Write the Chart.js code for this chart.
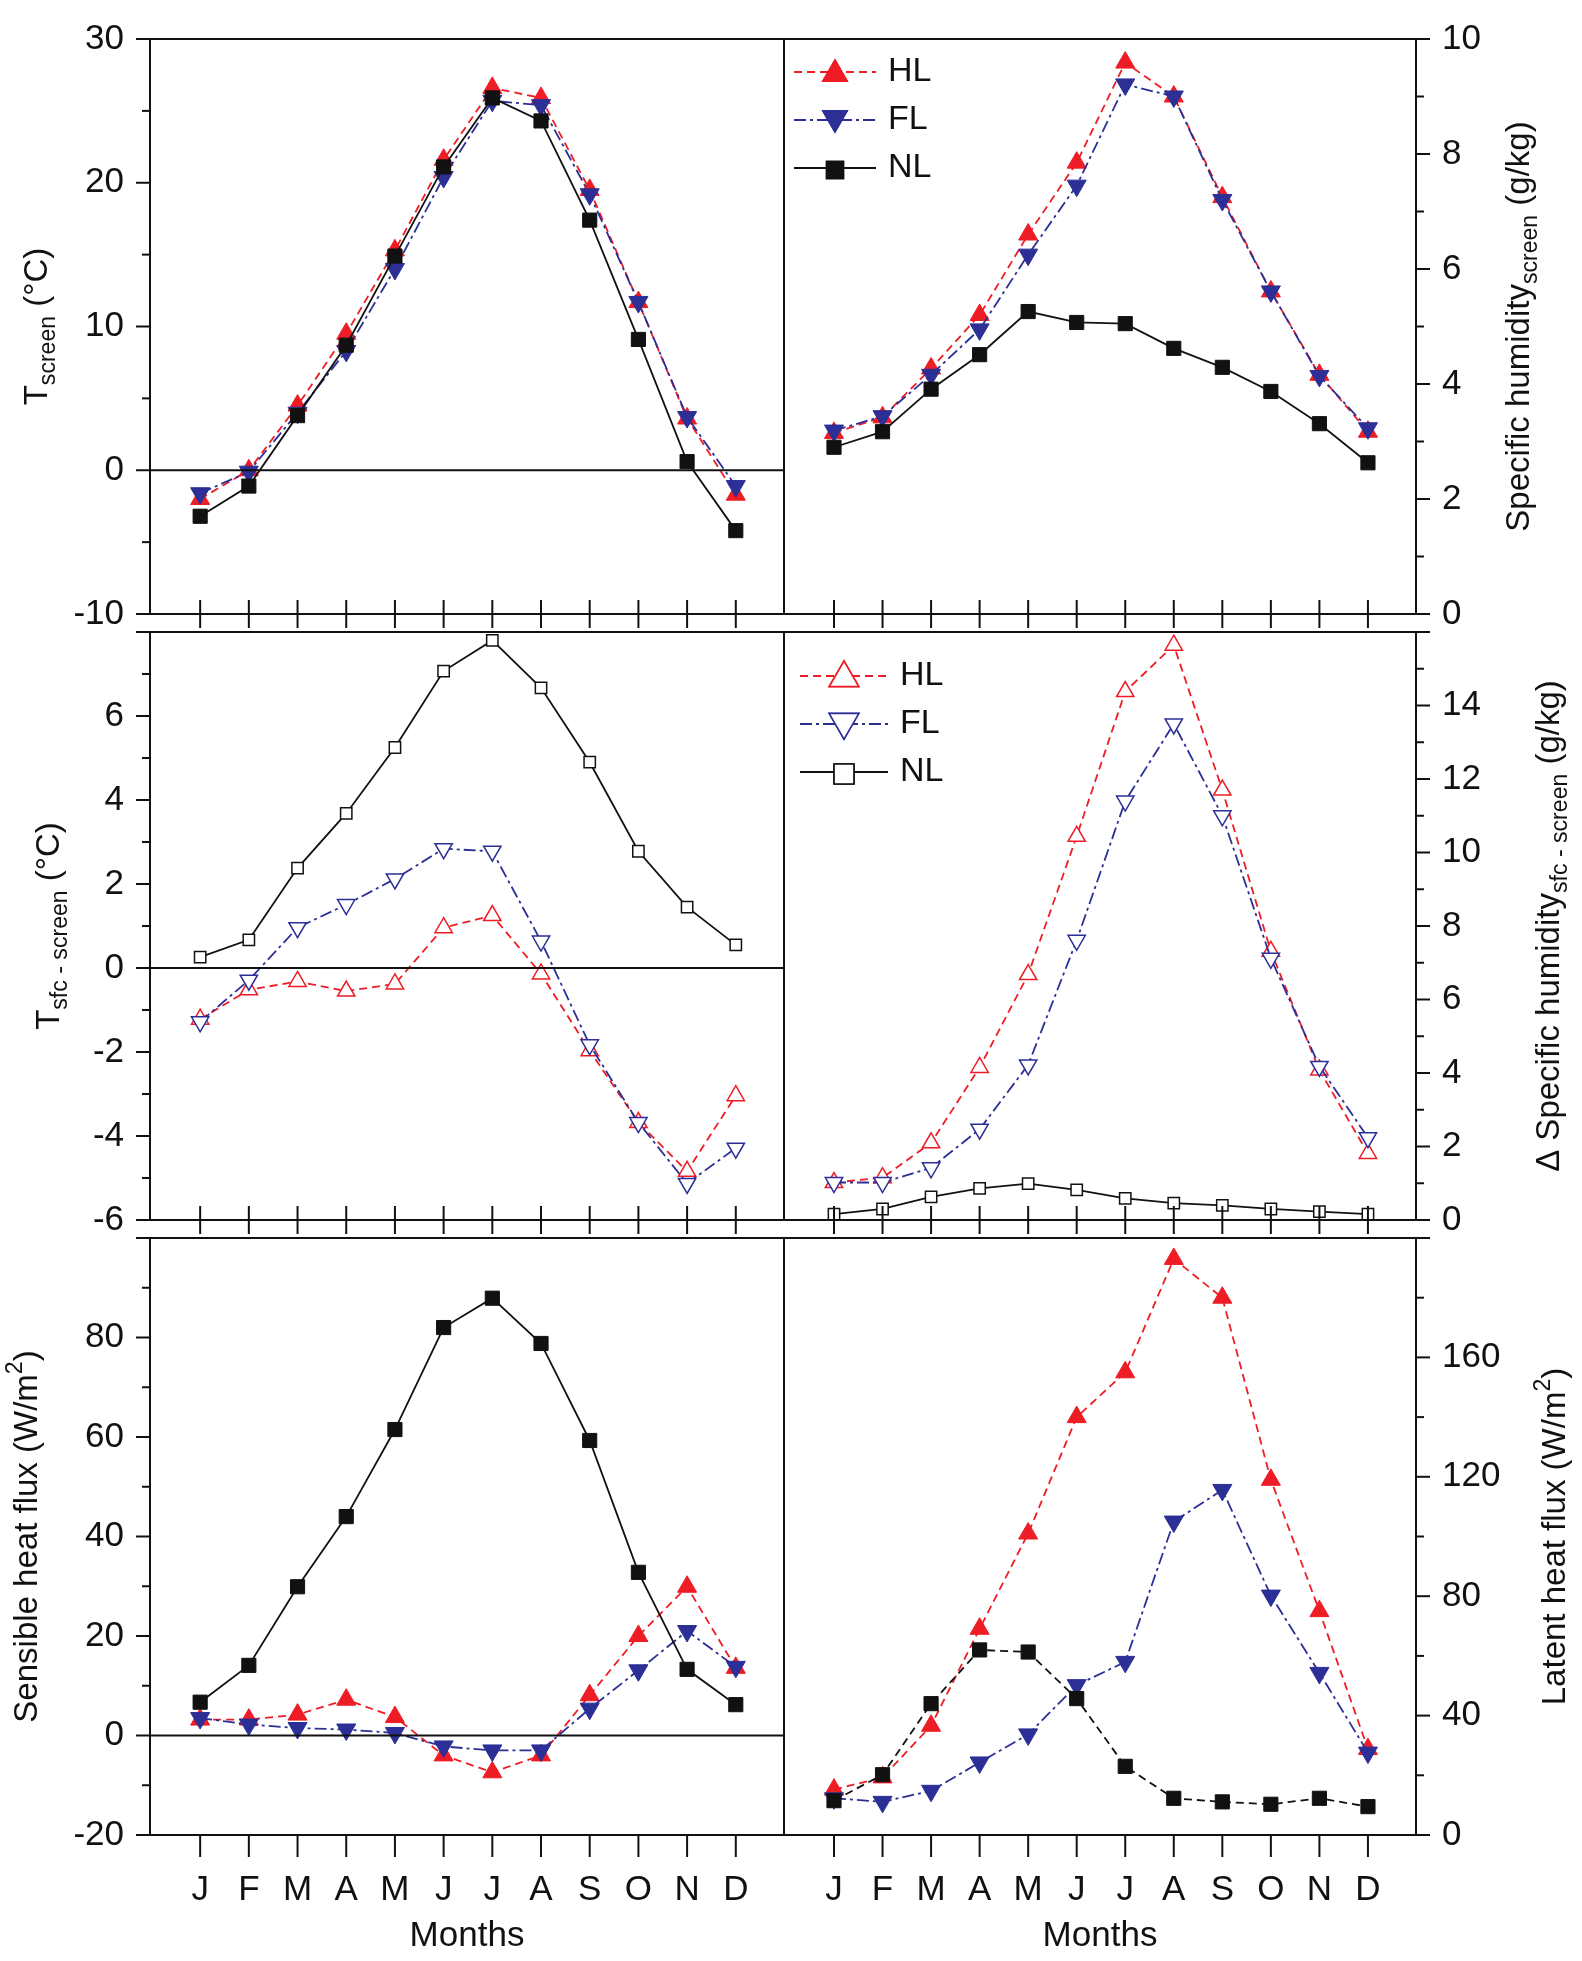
<!DOCTYPE html>
<html>
<head>
<meta charset="utf-8">
<script src="https://cdn.jsdelivr.net/npm/chart.js@4.4.0/dist/chart.umd.min.js"></script>
<style>
  body { margin: 0; background: #fff; width: 1582px; height: 1961px; position: relative; overflow: hidden; }
  canvas { position: absolute; }
</style>
</head>
<body>
<canvas id="tl" style="left:0;top:0"></canvas>
<canvas id="tr" style="left:784px;top:0"></canvas>
<canvas id="ml" style="left:0;top:593px"></canvas>
<canvas id="mr" style="left:784px;top:593px"></canvas>
<canvas id="bl" style="left:0;top:1199px"></canvas>
<canvas id="br" style="left:784px;top:1199px"></canvas>
<script>
const months = ['J', 'F', 'M', 'A', 'M', 'J', 'J', 'A', 'S', 'O', 'N', 'D'];

// screen temperature (°C)
const tScreenHL = [-2.0, 0.0, 4.5, 9.5, 15.3, 21.6, 26.6, 25.9, 19.5, 11.7, 3.6, -1.7];
const tScreenFL = [-1.6, -0.1, 4.0, 8.3, 14.0, 20.4, 25.7, 25.4, 19.2, 11.7, 3.7, -1.1];
const tScreenNL = [-3.2, -1.1, 3.8, 8.7, 14.9, 21.1, 25.9, 24.3, 17.4, 9.1, 0.6, -4.2];

// screen specific humidity (g/kg)
const qScreenHL = [3.15, 3.42, 4.27, 5.2, 6.6, 7.85, 9.59, 9.0, 7.25, 5.61, 4.16, 3.17];
const qScreenFL = [3.19, 3.44, 4.16, 4.95, 6.25, 7.45, 9.21, 9.0, 7.2, 5.61, 4.14, 3.23];
const qScreenNL = [2.9, 3.17, 3.91, 4.51, 5.26, 5.07, 5.05, 4.62, 4.29, 3.87, 3.31, 2.63];

// surface - screen temperature (°C)
const dTHL = [-1.22, -0.52, -0.32, -0.55, -0.38, 0.96, 1.25, -0.14, -1.97, -3.68, -4.84, -3.04];
const dTFL = [-1.28, -0.29, 0.96, 1.51, 2.12, 2.84, 2.78, 0.64, -1.83, -3.68, -5.13, -4.29];
const dTNL = [0.26, 0.67, 2.38, 3.68, 5.25, 7.07, 7.8, 6.67, 4.9, 2.78, 1.45, 0.55];

// surface - screen specific humidity (g/kg)
const dQHL = [1.02, 1.15, 2.1, 4.15, 6.68, 10.44, 14.38, 15.64, 11.7, 7.31, 4.08, 1.81];
const dQFL = [1.02, 1.02, 1.42, 2.47, 4.22, 7.61, 11.4, 13.5, 11.0, 7.12, 4.18, 2.24];
const dQNL = [0.16, 0.3, 0.63, 0.86, 0.99, 0.82, 0.59, 0.46, 0.4, 0.3, 0.23, 0.16];

// sensible heat flux (W/m2)
const shHL = [3.2, 3.2, 4.2, 7.2, 3.7, -4.0, -7.4, -4.0, 8.1, 20.0, 29.9, 13.6];
const shFL = [3.5, 2.2, 1.5, 1.2, 0.5, -2.2, -3.0, -3.0, 5.4, 13.1, 21.0, 13.8];
const shNL = [6.7, 14.1, 29.9, 44.0, 61.5, 82.0, 87.9, 78.8, 59.3, 32.8, 13.3, 6.2];

// latent heat flux (W/m2)
const lhHL = [15.2, 19.3, 36.6, 69.1, 101, 140, 155, 193, 180, 119, 75, 28.8];
const lhFL = [12.3, 11.1, 14.8, 24.3, 33.7, 50.2, 58, 105, 115.6, 80.2, 54.3, 27.6];
const lhNL = [11.5, 20.2, 44, 62, 61.3, 45.7, 23, 12.3, 11.1, 10.3, 12.3, 9.5];

const FONT = "'Liberation Sans', Arial, sans-serif";
const RED = '#ee1c25', BLUE = '#2b2f96', BLACK = '#111';
const DASH_HL = [8, 5], DASH_FL = [12, 4, 3, 4];

function pts(arr) { return arr.map((v, i) => ({ x: i, y: v })); }

function series(label, arr, kind, open, nlDash) {
  const color = kind === 'HL' ? RED : kind === 'FL' ? BLUE : BLACK;
  const isSq = kind === 'NL';
  return {
    label, data: pts(arr),
    borderColor: color, borderWidth: 1.8,
    borderDash: kind === 'HL' ? DASH_HL : kind === 'FL' ? DASH_FL : (nlDash ? DASH_HL : []),
    pointStyle: isSq ? 'rect' : 'triangle',
    rotation: kind === 'FL' ? 180 : 0,
    pointRadius: isSq ? (open ? 8 : 10) : (open ? 10 : 11),
    pointBackgroundColor: open ? '#fff' : color,
    pointBorderColor: color, pointBorderWidth: open ? 1.5 : 1,
    tension: 0, order: kind === 'NL' ? 1 : kind === 'FL' ? 2 : 3
  };
}

// rotated text with sub/superscripts
function drawRich(ctx, x, y, parts, size) {
  ctx.save();
  ctx.translate(x, y);
  ctx.rotate(-Math.PI / 2);
  ctx.fillStyle = '#111';
  ctx.textBaseline = 'middle';
  let total = 0;
  parts.forEach(p => {
    ctx.font = (p.sub || p.sup ? size * 0.7 : size) + 'px ' + FONT;
    p.w = ctx.measureText(p.t).width; total += p.w;
  });
  let cx = -total / 2;
  parts.forEach(p => {
    ctx.font = (p.sub || p.sup ? size * 0.7 : size) + 'px ' + FONT;
    const dy = p.sub ? size * 0.32 : p.sup ? -size * 0.38 : 0;
    ctx.fillText(p.t, cx, dy);
    cx += p.w;
  });
  ctx.restore();
}

const deco = {
  id: 'deco',
  afterDatasetsDraw(chart) {
    const o = chart.options.plugins.deco;
    const ctx = chart.ctx, a = chart.chartArea, ys = chart.scales.y, xs = chart.scales.x;
    ctx.save();
    ctx.strokeStyle = '#111'; ctx.lineWidth = 2; ctx.setLineDash([]);
    // zero line
    if (o.zero) {
      const py = ys.getPixelForValue(0);
      ctx.beginPath(); ctx.moveTo(a.left, py); ctx.lineTo(a.right, py); ctx.stroke();
    }
    // frame
    ctx.strokeRect(a.left, a.top, a.right - a.left, a.bottom - a.top);
    // y ticks (outward)
    const right = ys.position === 'right';
    for (let v = ys.min; v <= ys.max + 1e-9; v += o.minor) {
      const py = ys.getPixelForValue(v);
      const r = v / o.major;
      const len = Math.abs(r - Math.round(r)) < 1e-6 ? 14 : 8;
      const x0 = right ? a.right : a.left;
      ctx.beginPath(); ctx.moveTo(x0, py); ctx.lineTo(right ? x0 + len : x0 - len, py); ctx.stroke();
    }
    // x ticks
    months.forEach((m, i) => {
      const px = xs.getPixelForValue(i);
      ctx.beginPath();
      if (o.bottom) { ctx.moveTo(px, a.bottom); ctx.lineTo(px, a.bottom + 22); }
      else { ctx.moveTo(px, a.bottom - 14); ctx.lineTo(px, a.bottom + 14); }
      ctx.stroke();
    });
    // legend
    if (o.legend) {
      const L = o.legend;
      chart.data.datasets.forEach((ds, i) => {
        const y = a.top + L.y + i * L.dy;
        ctx.strokeStyle = ds.borderColor; ctx.lineWidth = 1.8;
        ctx.setLineDash(ds.borderDash);
        ctx.beginPath(); ctx.moveTo(L.x, y); ctx.lineTo(L.x + L.w, y); ctx.stroke();
        ctx.setLineDash([]);
        const sq = ds.pointStyle === 'rect';
        Chart.helpers.drawPoint(ctx, {
          pointStyle: ds.pointStyle, rotation: ds.rotation,
          radius: sq ? L.sq : L.tri, borderWidth: ds.pointBorderWidth
        }, L.x + L.w / 2, y + (ds.rotation ? -2 : 2));
        ctx.fillStyle = ds.pointBackgroundColor; ctx.fill();
        ctx.strokeStyle = ds.pointBorderColor; ctx.lineWidth = ds.pointBorderWidth; ctx.stroke();
        ctx.fillStyle = '#111'; ctx.font = '34px ' + FONT; ctx.textBaseline = 'middle';
        ctx.fillText(ds.label, L.x + L.w + 12, y);
      });
    }
    ctx.restore();
    drawRich(ctx, o.title.x, (a.top + a.bottom) / 2, o.title.parts, 33);
  }
};
Chart.register(deco);

function make(id, w, h, datasets, cfg) {
  const cv = document.getElementById(id);
  cv.style.width = w + 'px'; cv.style.height = h + 'px';
  const tickFont = { family: FONT, size: 35 };
  return new Chart(cv, {
    type: 'line',
    data: { datasets },
    options: {
      responsive: false, animation: false, devicePixelRatio: 1,
      layout: { autoPadding: false, padding: { top: cfg.padTop || 0, left: 0, right: 0, bottom: cfg.padBottom || 0 } },
      plugins: { legend: { display: false }, tooltip: { enabled: false },
        deco: { title: cfg.title, legend: cfg.legend, zero: cfg.zero, major: cfg.step, minor: cfg.minor, bottom: cfg.bottom } },
      scales: {
        x: {
          type: 'linear', min: -1.03, max: 11.99, display: !!cfg.bottom,
          grid: { display: false }, border: { display: false },
          afterBuildTicks: s => { s.ticks = months.map((m, i) => ({ value: i })); },
          afterFit: s => { s.height = cfg.bottom ? 126 : 0; },
          ticks: { font: tickFont, color: '#111', padding: 26, maxRotation: 0, autoSkip: false,
            callback: v => months[v] },
          title: { display: !!cfg.bottom, text: 'Months', font: { family: FONT, size: 35 }, color: '#111', padding: { top: 4 } }
        },
        y: {
          position: cfg.right ? 'right' : 'left',
          min: cfg.min, max: cfg.max,
          grid: { display: false }, border: { display: false },
          afterFit: s => { s.width = cfg.axisW; },
          ticks: { stepSize: cfg.step, font: tickFont, color: '#111', padding: 18,
            callback: v => (cfg.hideTop && v === cfg.max) ? '' : v }
        }
      }
    }
  });
}

const ttl = (x, parts) => ({ x, parts: parts.map(p => typeof p === 'string' ? { t: p } : p) });

// plot areas: x 150-784-1416, y 19-623-1229-1835; canvases overlap by 30px so edge labels are not cut
make('tl', 784, 653,
  [series('HL', tScreenHL, 'HL'), series('FL', tScreenFL, 'FL'), series('NL', tScreenNL, 'NL')],
  { padTop: 19, padBottom: 30, axisW: 150, min: -10, max: 30, step: 10, minor: 5, zero: true,
    title: ttl(38, ['T', { t: 'screen', sub: true }, ' (°C)']) });

make('tr', 798, 653,
  [series('HL', qScreenHL, 'HL'), series('FL', qScreenFL, 'FL'), series('NL', qScreenNL, 'NL')],
  { padTop: 19, padBottom: 30, axisW: 166, right: true, min: 0, max: 10, step: 2, minor: 1,
    legend: { x: 10, y: 33, dy: 48, w: 82, tri: 14, sq: 12 },
    title: ttl(736, ['Specific humidity', { t: 'screen', sub: true }, ' (g/kg)']) });

make('ml', 784, 666,
  [series('HL', dTHL, 'HL', true), series('FL', dTFL, 'FL', true), series('NL', dTNL, 'NL', true)],
  { padTop: 30, padBottom: 30, axisW: 150, min: -6, max: 8, step: 2, minor: 1, zero: true, hideTop: true,
    title: ttl(50, ['T', { t: 'sfc - screen', sub: true }, ' (°C)']) });

make('mr', 798, 666,
  [series('HL', dQHL, 'HL', true), series('FL', dQFL, 'FL', true), series('NL', dQNL, 'NL', true)],
  { padTop: 30, padBottom: 30, axisW: 166, right: true, min: 0, max: 16, step: 2, minor: 1, hideTop: true,
    legend: { x: 16, y: 44, dy: 48, w: 88, tri: 17, sq: 14 },
    title: ttl(766, ['Δ Specific humidity', { t: 'sfc - screen', sub: true }, ' (g/kg)']) });

make('bl', 784, 762,
  [series('HL', shHL, 'HL'), series('FL', shFL, 'FL'), series('NL', shNL, 'NL')],
  { padTop: 30, axisW: 150, min: -20, max: 100, step: 20, minor: 10, zero: true, hideTop: true, bottom: true,
    title: ttl(28, ['Sensible heat flux (W/m', { t: '2', sup: true }, ')']) });

make('br', 798, 762,
  [series('HL', lhHL, 'HL'), series('FL', lhFL, 'FL'), series('NL', lhNL, 'NL', false, true)],
  { padTop: 30, axisW: 166, right: true, min: 0, max: 200, step: 40, minor: 20, hideTop: true, bottom: true,
    title: ttl(772, ['Latent heat flux (W/m', { t: '2', sup: true }, ')']) });
</script>
</body>
</html>
